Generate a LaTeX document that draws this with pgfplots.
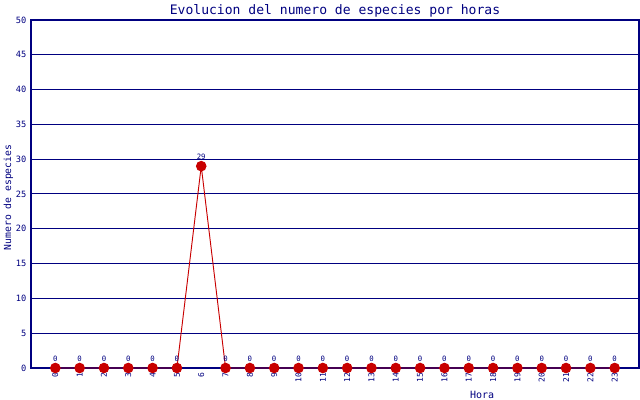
\documentclass[border=0pt]{standalone}
\usepackage{pgfplots}
\pgfplotsset{compat=1.18}
\usepackage{fontspec}
\setmainfont{DejaVu Sans Mono}
\definecolor{navy}{RGB}{0,0,128}
\definecolor{ptred}{RGB}{200,0,0}
\begin{document}
\begin{tikzpicture}
\begin{axis}[
  scale only axis,
  width=456pt, height=261pt,
  xmin=-1, xmax=24, ymin=0, ymax=50,
  axis lines*=box,
  axis line style={navy, line width=0.8pt},
  xtick={0,...,23},
  ytick={0,5,...,50},
  ymajorgrids,
  grid style={navy, line width=0.75pt},
  tick style={navy, line width=0.6pt},
  major tick length=0pt,
  xticklabel style={font=\fontsize{6}{6}\selectfont, text=navy, rotate=90, anchor=east},
  yticklabel style={font=\fontsize{6.5}{7}\selectfont, text=navy},
  /pgf/number format/assume math mode=true,
  title={Evolucion del numero de especies por horas},
  title style={font=\fontsize{9.8}{11}\selectfont, text=navy, at={(axis description cs:0.5,1)}, anchor=center, yshift=0.75pt},
  xlabel={Hora},
  xlabel style={font=\fontsize{7.5}{9}\selectfont, text=navy, at={(axis description cs:0.742,0)}, anchor=center, yshift=-20pt},
  ylabel={Numero de especies},
  ylabel style={font=\fontsize{7.3}{9}\selectfont, text=navy, at={(axis description cs:0,0.49)}, anchor=center, yshift=17pt},
  clip=false,
  nodes near coords,
  nodes near coords style={font=\fontsize{5.5}{6}\selectfont, text=navy, anchor=south, yshift=1pt},
]
\addplot[color=ptred, line width=0.7pt, mark=*, mark size=3.6pt, mark options={fill=ptred, draw=ptred}] coordinates {
(0,0) (1,0) (2,0) (3,0) (4,0) (5,0) (6,29) (7,0) (8,0) (9,0) (10,0) (11,0)
(12,0) (13,0) (14,0) (15,0) (16,0) (17,0) (18,0) (19,0) (20,0) (21,0) (22,0) (23,0)
};
\end{axis}
\pgfresetboundingbox
\path (current axis.south west) ++(-23.25pt,-24pt) coordinate (bl);
\path (current axis.north east) ++(0.75pt,15pt) coordinate (tr);
\path[use as bounding box] (bl) rectangle (tr);
\end{tikzpicture}
\end{document}
